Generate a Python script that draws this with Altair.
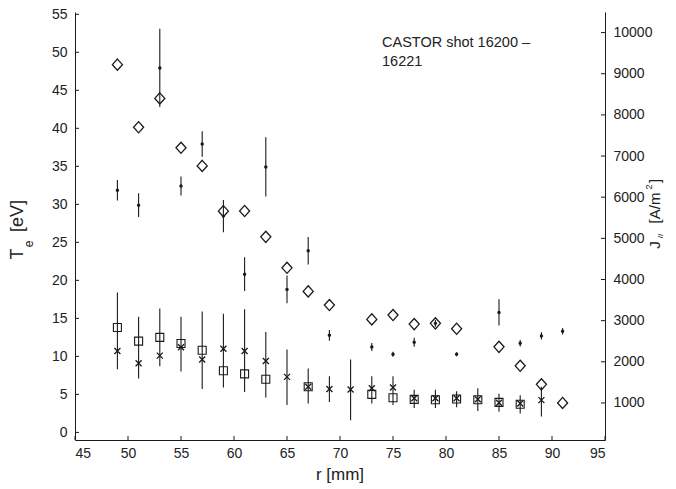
import altair as alt
import pandas as pd

# ---- data ----
# Te, square markers (left axis, eV)
r_sq = [49, 51, 53, 55, 57, 59, 61, 63, 67, 73, 75, 77, 79, 81, 83, 85, 87]
te_sq = [13.8, 12.0, 12.5, 11.7, 10.8, 8.1, 7.7, 7.0, 6.0, 5.0, 4.55, 4.35, 4.3, 4.4, 4.3, 3.95, 3.7]

# Te, x markers (left axis, eV) with error bars
r_x = [49, 51, 53, 55, 57, 59, 61, 63, 65, 67, 69, 71, 73, 75, 77, 79, 81, 83, 85, 87, 89]
te_x = [10.7, 9.1, 10.1, 11.2, 9.6, 11.0, 10.7, 9.4, 7.3, 6.0, 5.7, 5.65, 5.8, 5.9,
        4.5, 4.5, 4.5, 4.35, 3.9, 3.8, 4.25]
te_bar_lo = [8.3, 7.1, 8.7, 8.0, 5.7, 5.9, 5.3, 4.6, 3.6, 3.8, 4.0, 1.6, 3.8, 3.6,
             3.2, 3.2, 3.3, 2.8, 2.7, 2.5, 2.1]
te_bar_hi = [18.4, 15.2, 16.3, 15.2, 15.9, 15.6, 16.2, 13.2, 10.9, 8.4, 7.4, 9.6, 7.4, 7.4,
             5.6, 5.6, 5.4, 5.8, 5.1, 4.9, 6.0]

# J parallel (right axis, A/m^2)
r_j = [49, 51, 53, 55, 57, 59, 61, 63, 65, 67, 69, 73, 75, 77, 79, 81, 85, 87, 89, 91]
j_dia = [9220, 7700, 8400, 7200, 6760, 5660, 5665, 5036, 4284, 3711, 3379, 3031, 3136,
         2917, 2934, 2803, 2363, 1903, 1453, 1000]
j_dot = [6170, 5806, 9140, 6270, 7290, 5540, 4130, 6735, 3760, 4697, 2643, 2360, 2182,
         2473, 2934, 2185, 3200, 2450, 2630, 2743]
j_dot_err = [250, 290, 950, 230, 310, 390, 410, 720, 340, 335, 130, 100, 60, 110, 80,
             50, 320, 80, 90, 80]

x_ticks = [45, 50, 55, 60, 65, 70, 75, 80, 85, 90, 95]
te_ticks = [0, 5, 10, 15, 20, 25, 30, 35, 40, 45, 50, 55]
j_ticks = [1000, 2000, 3000, 4000, 5000, 6000, 7000, 8000, 9000, 10000]

annot_line1 = "CASTOR shot 16200 \u2013"
annot_line2 = "16221"

# ---- styling ----
W, H = 530, 428
FONT = "Liberation Sans"
INK = "#1a1a1a"
TXT = "#222222"

xs = alt.Scale(domain=[45, 95], nice=False, zero=False)
ys_te = alt.Scale(domain=[-1, 55.3], nice=False, zero=False)
ys_j = alt.Scale(domain=[100, 10500], nice=False, zero=False)

DIAMOND = "M0,-1L0.9,0L0,1L-0.9,0Z"
XMARK = "M-1,-1L1,1M-1,1L1,-1"

df_sq = pd.DataFrame({"r": r_sq, "te": te_sq})
df_x = pd.DataFrame({"r": r_x, "te": te_x, "lo": te_bar_lo, "hi": te_bar_hi})
df_j = pd.DataFrame({
    "r": r_j, "dia": j_dia, "dot": j_dot,
    "lo": [d - e for d, e in zip(j_dot, j_dot_err)],
    "hi": [d + e for d, e in zip(j_dot, j_dot_err)],
})

common = dict(ticks=False, grid=False, title=None, domain=True, domainColor=INK,
              domainWidth=1, labelColor=TXT, labelFontSize=14, labelFont=FONT, format="d")
x_axis = alt.Axis(values=x_ticks, labelPadding=6, orient="bottom", **common)
te_axis = alt.Axis(values=te_ticks, labelPadding=8, orient="left", **common)
j_axis = alt.Axis(values=j_ticks, labelPadding=8, orient="right", **common)

X = alt.X("r:Q", scale=xs, axis=x_axis)
def YT(f):
    return alt.Y(f, scale=ys_te, axis=te_axis)
def YJ(f):
    return alt.Y(f, scale=ys_j, axis=j_axis)

# ---- left (Te) group ----
te_err = alt.Chart(df_x).mark_rule(color=INK, strokeWidth=1.1).encode(
    x=X, y=YT("lo:Q"), y2="hi:Q")
sq = alt.Chart(df_sq).mark_point(shape="square", size=64, filled=False, strokeWidth=1.1,
                                 color=INK, opacity=1).encode(x=X, y=YT("te:Q"))
xm = alt.Chart(df_x).mark_point(shape=XMARK, size=36, filled=False, strokeWidth=1.3,
                                color=INK, opacity=1).encode(x=X, y=YT("te:Q"))

left_ticks = alt.Chart(pd.DataFrame({"v": te_ticks})).mark_rule(color=INK, strokeWidth=1).encode(
    y=YT("v:Q"), x=alt.value(0), x2=alt.value(4))
bottom_ticks = alt.Chart(pd.DataFrame({"r": x_ticks})).mark_rule(color=INK, strokeWidth=1).encode(
    x=X, y=alt.value(H), y2=alt.value(H - 4))


def label(txt, x, y, size, angle=0, align="center"):
    return alt.Chart(pd.DataFrame({"t": [txt]})).mark_text(
        font=FONT, fontSize=size, color=TXT, angle=angle, align=align,
        baseline="middle").encode(x=alt.value(x), y=alt.value(y), text="t:N")


titles = [
    label(annot_line1, 307, 31, 14.5, 0, "left"),
    label(annot_line2, 307, 50, 14.5, 0, "left"),
    label("r [mm]", W / 2, 463, 17),
    label("T", -57, 242, 18, 270),
    label("e", -46, 232, 12, 270),
    label("[eV]", -57, 204, 18, 270),
]

left = alt.layer(te_err, sq, xm, left_ticks, bottom_ticks, *titles)

# ---- right (J) group ----
j_err = alt.Chart(df_j).mark_rule(color=INK, strokeWidth=1.1).encode(
    x=X, y=YJ("lo:Q"), y2="hi:Q")
dots = alt.Chart(df_j).mark_point(shape="circle", size=12, filled=True, color=INK,
                                  opacity=1).encode(x=X, y=YJ("dot:Q"))
dia = alt.Chart(df_j).mark_point(shape=DIAMOND, size=125, filled=False, strokeWidth=1.3,
                                 color=INK, opacity=1).encode(x=X, y=YJ("dia:Q"))
right_ticks = alt.Chart(pd.DataFrame({"v": j_ticks})).mark_rule(color=INK, strokeWidth=1).encode(
    y=YJ("v:Q"), x=alt.value(W - 4), x2=alt.value(W))

rtitles = [
    label("J", 580, 233, 15, 270),
    label("//", 586, 224, 8, 270),
    label("[A/m", 580, 196, 15, 270),
    label("2", 574, 175, 9, 270),
    label("]", 580, 169, 15, 270),
]

right = alt.layer(j_err, dia, dots, right_ticks, *rtitles)

chart = alt.layer(left, right).resolve_scale(y="independent").properties(
    width=W, height=H,
    padding={"left": 67, "top": 4, "right": 62, "bottom": 45},
    autosize=alt.AutoSizeParams(type="none"),
).configure_view(stroke=None)

chart.save("out.html", embed_options={"renderer": "svg", "actions": False})
